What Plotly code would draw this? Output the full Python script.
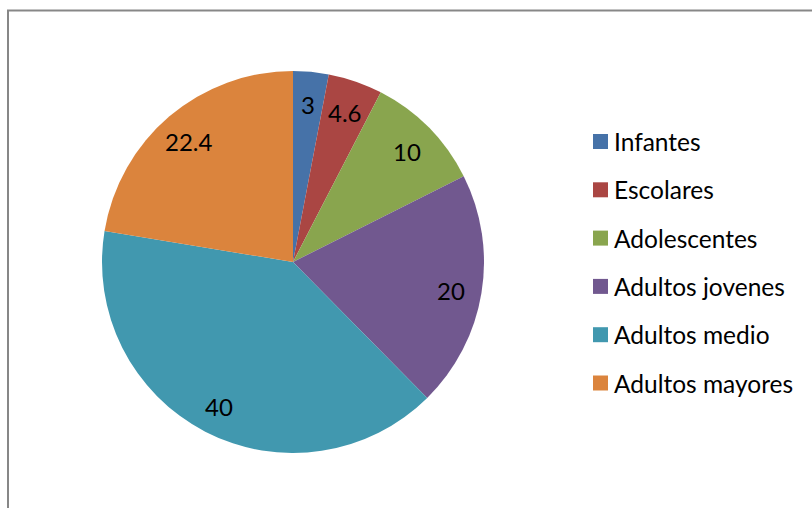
import math
import plotly.graph_objects as go

labels = ["Infantes", "Escolares", "Adolescentes", "Adultos jovenes", "Adultos medio", "Adultos mayores"]
values = [3, 4.6, 10, 20, 40, 22.4]
colors = ["#4672A8", "#AA4643", "#89A54E", "#71588F", "#4198AF", "#DB843D"]

W, H = 812, 508
FONT = "Lato, Open Sans, sans-serif"
FS = 24
CX, CY, R = 293, 262, 191

fig = go.Figure()
fig.add_trace(go.Pie(
    labels=labels, values=values, sort=False, direction="clockwise", rotation=0,
    marker=dict(colors=colors, line=dict(width=0)),
    textinfo="none",
    hoverinfo="label+value",
    showlegend=False,
    domain=dict(x=[(CX - R) / W, (CX + R) / W], y=[(H - CY - R) / H, (H - CY + R) / H]),
))

shapes = [dict(type="rect", xref="paper", yref="paper",
               x0=8 / W, x1=1.05, y0=-0.05, y1=1 - 10.5 / H,
               line=dict(color="#878787", width=2), fillcolor="rgba(0,0,0,0)")]
annotations = []

# data labels placed along each slice's bisector (Excel-style)
total = sum(values)
cum = 0.0
for v in values:
    ang = 2 * math.pi * (cum + v / 2) / total
    cum += v
    r = 0.84 * R
    px = CX + r * math.sin(ang)
    py = CY - r * math.cos(ang)
    annotations.append(dict(text=f"{v:g}", xref="paper", yref="paper",
                            x=px / W, y=1 - (py + 2) / H, xanchor="center", yanchor="middle",
                            showarrow=False, font=dict(family=FONT, size=FS, color="#000000")))

# legend
y_first = 141.5
step = 48.3
for i, (lab, col) in enumerate(zip(labels, colors)):
    yc = y_first + i * step
    shapes.append(dict(type="rect", xref="paper", yref="paper",
                       x0=593 / W, x1=608 / W,
                       y0=1 - (yc + 7.5) / H, y1=1 - (yc - 7.5) / H,
                       line=dict(width=0), fillcolor=col))
    annotations.append(dict(text=lab, xref="paper", yref="paper",
                            x=612 / W, y=1 - yc / H, xanchor="left", yanchor="middle",
                            showarrow=False, font=dict(family=FONT, size=24.5, color="#000000")))

fig.update_layout(
    width=W, height=H, margin=dict(l=0, r=0, t=0, b=0),
    paper_bgcolor="white", plot_bgcolor="white",
    shapes=shapes, annotations=annotations, showlegend=False,
)
fig.write_html("out.html", config={"displayModeBar": False},
               post_script="document.body.style.margin='0';")
